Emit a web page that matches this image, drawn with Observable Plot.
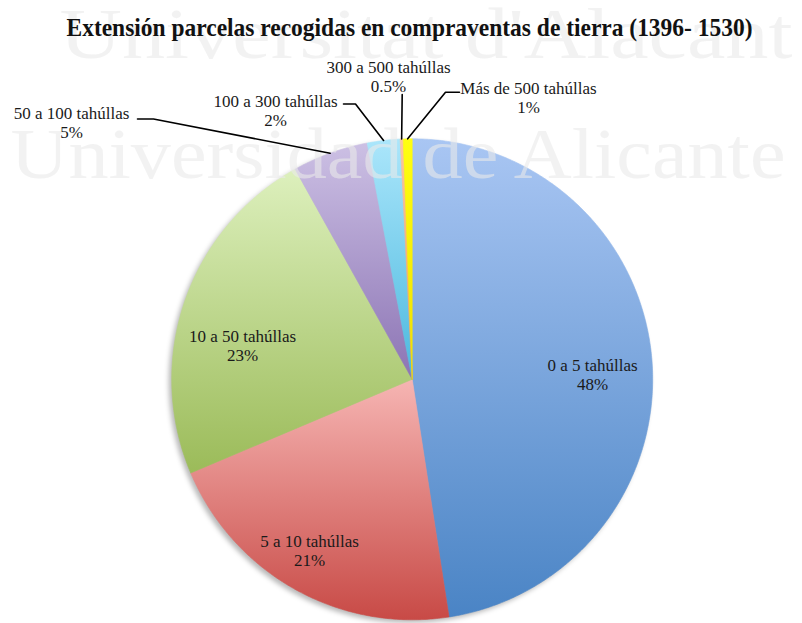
<!DOCTYPE html>
<html>
<head>
<meta charset="utf-8">
<script src="https://cdn.jsdelivr.net/npm/d3@7"></script>
<script src="https://cdn.jsdelivr.net/npm/@observablehq/plot@0.6"></script>
<style>
  html, body { margin: 0; padding: 0; background: #fff; }
  body { width: 802px; height: 623px; overflow: hidden; }
</style>
</head>
<body>
<div id="chart"></div>
<script>
// ---------- data ----------
const title = "Extensión parcelas recogidas en compraventas de tierra (1396- 1530)";
const categories = [
  "0 a 5 tahúllas",
  "5 a 10 tahúllas",
  "10 a 50 tahúllas",
  "50 a 100 tahúllas",
  "100 a 300 tahúllas",
  "300 a 500 tahúllas",
  "Más de 500 tahúllas"
];
const shares = [47.6, 21.1, 23.3, 5.1, 2.2, 0.2, 0.6];
const pctLabels = ["48%", "21%", "23%", "5%", "2%", "0.5%", "1%"];
const watermarks = ["Universitat d'Alacant", "Universidad de Alicante"];

// ---------- styles ----------
const gradientStops = [
  ["#a9c6f3", "#4a84c5"],
  ["#f6b5b3", "#c84a46"],
  ["#ddf0bd", "#9bbb59"],
  ["#ccc0e4", "#8c74b4"],
  ["#abe6fb", "#4bb8de"],
  ["#fac6a2", "#f39a5c"],
  ["#ffff10", "#efe000"]
];

// ---------- layout (pixel units) ----------
const W = 802, H = 623;
const CX = 411.7, CY = 378.8, R = 240.5;
const labelLayout = [
  {x: 592, y: 374},
  {x: 309, y: 550},
  {x: 242, y: 345},
  {x: 71,  y: 122, leader: [[137, 118.5], [153, 118.5]]},
  {x: 275, y: 110, leader: [[343, 103.5], [355, 103.5]]},
  {x: 388, y: 76,  leader: [[401.7, 94]]},
  {x: 528, y: 97,  leader: [[459, 91.7], [445, 91.7]]}
];
const watermarkLayout = [
  {x: 59, y: 34, len: 733},
  {x: 10, y: 154, len: 775}
];
const titleLayout = {x: 66, y: 27.5, len: 686};

// ---------- geometry from data ----------
const table = categories.map((c, i) => ({category: c, share: shares[i], pct: pctLabels[i], i}));
const arcs = d3.pie().sort(null).value(d => d.share)(table);
const polar = (a, r) => [CX + r * Math.sin(a), CY - r * Math.cos(a)];

const slicePolys = arcs.map(a => {
  const pts = [{x: CX, y: CY}];
  const n = Math.max(2, Math.ceil((a.endAngle - a.startAngle) / (Math.PI / 360)));
  for (let k = 0; k <= n; k++) {
    const t = a.startAngle + (a.endAngle - a.startAngle) * k / n;
    const [x, y] = polar(t, R);
    pts.push({x, y});
  }
  pts.push({x: CX, y: CY});
  return pts;
});

const leaders = [];
arcs.forEach((a, i) => {
  const L = labelLayout[i];
  if (!L.leader) return;
  L.leader.forEach(([x, y]) => leaders.push({key: i, x, y}));
  const [ex, ey] = polar((a.startAngle + a.endAngle) / 2, R);
  leaders.push({key: i, x: ex, y: ey});
});

const labels = table.map((d, i) => ({
  text: d.category + "\n" + d.pct,
  x: labelLayout[i].x,
  y: labelLayout[i].y
}));

// ---------- plot ----------
const marks = [];
// shadow
marks.push(Plot.dot([{x: CX, y: CY}], {x: "x", y: "y", r: R, fill: "#000", fillOpacity: 0.28, stroke: "none", dx: -3, dy: 3}));
// slices (placeholder solid colour, replaced by gradient afterwards)
slicePolys.forEach((pts, i) => {
  marks.push(Plot.line(pts, {x: "x", y: "y", fill: gradientStops[i][1], stroke: gradientStops[i][1], strokeWidth: 0.6, curve: "linear"}));
});
// watermark
marks.push(Plot.text(watermarks.map((t, i) => ({t, x: watermarkLayout[i].x, y: watermarkLayout[i].y})), {
  x: "x", y: "y", text: "t", textAnchor: "start", fontSize: 72, fill: "#e9e9e9", fillOpacity: 0.6
}));
// leader lines
marks.push(Plot.line(leaders, {x: "x", y: "y", z: "key", stroke: "#000", strokeWidth: 1.6, curve: "linear"}));
// labels
marks.push(Plot.text(labels, {x: "x", y: "y", text: "text", fontSize: 17, lineHeight: 1.13, fill: "#1a1a1a", textAnchor: "middle"}));
// title
marks.push(Plot.text([titleLayout], {x: "x", y: "y", text: () => title, textAnchor: "start", fontSize: 26, fontWeight: "bold", fill: "#111"}));

const chart = Plot.plot({
  width: W,
  height: H,
  margin: 0,
  x: {domain: [0, W], range: [0, W], axis: null},
  y: {domain: [0, H], range: [0, H], axis: null},
  style: {fontFamily: "'Liberation Serif', 'Times New Roman', serif", background: "#fff", overflow: "visible"},
  marks
});

const svg = d3.select(chart);
const defs = svg.insert("defs", ":first-child");
gradientStops.forEach(([a, b], i) => {
  const g = defs.append("linearGradient").attr("id", "g" + i).attr("x1", 0).attr("y1", 0).attr("x2", 0).attr("y2", 1);
  g.append("stop").attr("offset", 0).attr("stop-color", a);
  g.append("stop").attr("offset", 1).attr("stop-color", b);
});
defs.append("filter").attr("id", "blur").attr("x", "-10%").attr("y", "-10%").attr("width", "120%").attr("height", "120%")
  .append("feGaussianBlur").attr("stdDeviation", 2.5);

// swap placeholder fills for gradients
gradientStops.forEach(([a, b], i) => {
  svg.selectAll(`[fill="${b}"]`).attr("fill", `url(#g${i})`);
  svg.selectAll(`[stroke="${b}"]`).attr("stroke", `url(#g${i})`);
});
svg.selectAll("circle").attr("filter", "url(#blur)");
svg.selectAll("text").each(function() {
  const el = d3.select(this);
  const s = this.textContent;
  const wi = watermarks.indexOf(s);
  if (wi >= 0) el.attr("textLength", watermarkLayout[wi].len).attr("lengthAdjust", "spacingAndGlyphs");
  if (s === title) el.attr("textLength", titleLayout.len).attr("lengthAdjust", "spacingAndGlyphs");
});

document.getElementById("chart").appendChild(chart);
</script>
</body>
</html>
